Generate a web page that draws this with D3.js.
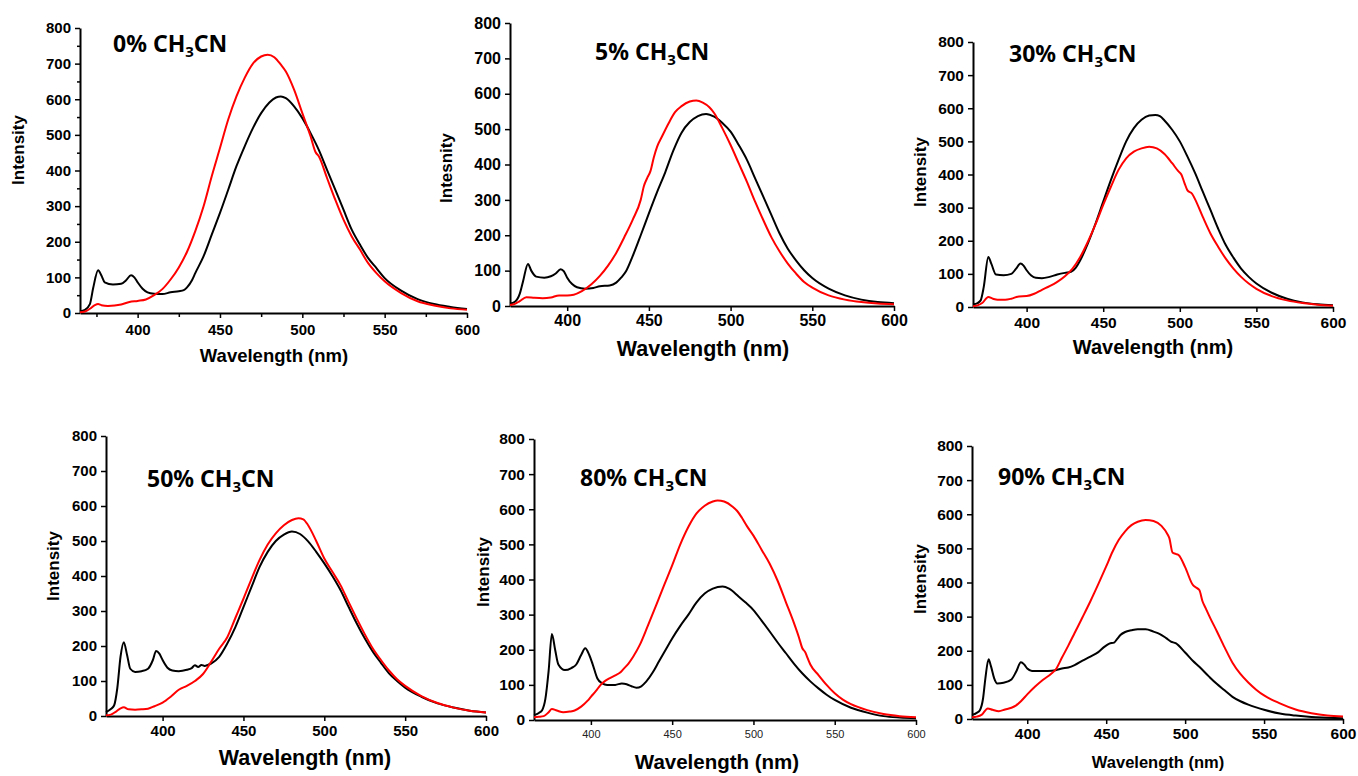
<!DOCTYPE html>
<html>
<head>
<meta charset="utf-8">
<script src="https://cdn.jsdelivr.net/npm/d3@7"></script>
<style>
html, body { margin: 0; padding: 0; background: #fff; }
svg text { font-family: "Liberation Sans", Arial, sans-serif; font-weight: bold; fill: #000; }
.title { font-family: "Noto Sans", "DejaVu Sans", sans-serif; }
</style>
</head>
<body>
<svg id="chart" width="1358" height="776"></svg>
<script>
//DATA : [wavelength (nm), intensity]
const concentrations = ['0%', '5%', '30%', '50%', '80%', '90%'];
const yTicks = [0, 100, 200, 300, 400, 500, 600, 700, 800];
const xTicks = [400, 450, 500, 550, 600];

const black0 = [[365,5],[368,9],[371,25],[373,70],[376,120],[378,105],[380,86],[385,80],[390,82],[393,92],[396,106],[398,100],[400,86],[403,68],[406,58],[410,54],[415,53],[420,58],[425,61],[428,64],[430,72],[433,92],[435,112],[440,159],[445,220],[450,281],[455,346],[460,412],[465,468],[470,519],[475,561],[480,591],[484,605],[487,608],[490,603],[495,580],[500,547],[505,505],[510,458],[515,402],[520,346],[525,290],[530,234],[535,192],[540,154],[545,126],[550,98],[560,63],[570,39],[580,25],[590,17],[600,11]];
const red0 = [[365,2],[368,4],[371,12],[374,22],[376,25],[378,22],[382,20],[386,21],[390,24],[395,31],[400,34],[405,38],[410,50],[415,67],[420,94],[425,128],[430,172],[435,230],[440,299],[445,384],[450,463],[455,543],[460,608],[465,660],[470,700],[475,720],[479,725],[483,718],[487,697],[490,678],[495,627],[500,561],[505,496],[508,452],[510,440],[515,379],[520,318],[525,262],[530,215],[535,178],[540,140],[545,112],[550,89],[560,56],[570,33],[580,21],[590,13],[600,9]];

const black5 = [[365,7],[368,12],[371,35],[373,70],[376,119],[378,100],[381,83],[386,80],[390,84],[393,92],[396,104],[398,98],[400,80],[403,62],[406,53],[411,49],[416,51],[420,56],[426,58],[430,66],[433,80],[436,98],[440,140],[445,200],[450,262],[455,322],[460,378],[465,440],[470,490],[475,520],[480,537],[485,543],[490,535],[495,517],[500,493],[505,455],[510,413],[515,361],[520,309],[525,257],[530,205],[535,162],[540,129],[545,101],[550,79],[560,49],[570,30],[580,18],[590,11],[600,8]];
const red5 = [[365,3],[368,6],[371,14],[375,25],[380,23],[385,22],[390,24],[395,30],[400,30],[404,32],[409,42],[415,62],[420,85],[425,114],[430,150],[435,195],[440,243],[445,300],[447,340],[449,362],[451,382],[453,420],[455,450],[458,479],[462,516],[466,548],[470,565],[475,578],[479,581],[483,575],[487,562],[490,545],[495,502],[500,455],[505,403],[510,351],[515,295],[520,243],[525,194],[530,154],[535,120],[540,92],[545,68],[550,52],[560,30],[570,18],[580,11],[590,7],[600,5]];

const black30 = [[365,8],[368,12],[370,20],[372,60],[375,151],[377,130],[380,98],[385,96],[390,100],[393,115],[396,131],[398,125],[400,111],[403,95],[406,88],[410,87],[415,91],[420,98],[425,103],[429,106],[432,118],[435,141],[440,192],[445,252],[450,318],[455,383],[460,444],[465,500],[470,540],[475,565],[480,578],[484,580],[487,576],[490,563],[495,535],[500,500],[505,454],[510,404],[515,348],[520,293],[525,237],[530,187],[535,149],[540,116],[545,91],[550,71],[560,43],[570,25],[580,14],[590,8],[600,5]];
const red30 = [[365,2],[368,5],[371,12],[375,30],[378,25],[381,22],[386,22],[390,25],[395,32],[400,33],[405,40],[410,52],[415,63],[420,76],[425,93],[430,116],[435,151],[440,197],[445,250],[450,308],[455,363],[460,414],[465,449],[470,469],[475,479],[480,484],[485,479],[490,462],[495,434],[499,410],[501,400],[503,375],[505,352],[508,342],[510,325],[515,272],[520,222],[525,182],[530,146],[535,116],[540,91],[545,71],[550,55],[560,33],[570,20],[580,12],[590,7],[600,4]];

const black50 = [[365,11],[368,20],[370,30],[372,80],[374,170],[376,211],[378,175],[380,135],[383,126],[387,128],[391,135],[394,160],[396,186],[398,178],[400,160],[403,138],[406,130],[410,128],[415,132],[418,137],[420,145],[422,140],[424,146],[426,143],[428,146],[430,150],[435,169],[440,207],[445,254],[450,311],[455,369],[460,426],[465,469],[470,500],[475,518],[480,527],[485,520],[490,499],[495,469],[500,436],[505,400],[510,360],[515,312],[520,265],[525,222],[530,184],[535,152],[540,122],[545,100],[550,81],[560,55],[570,36],[580,24],[590,15],[600,10]];
const red50 = [[365,2],[368,4],[371,12],[374,22],[376,25],[379,19],[383,18],[387,19],[391,21],[395,28],[400,38],[405,55],[410,75],[415,86],[420,100],[425,120],[430,155],[435,192],[440,225],[445,280],[450,335],[455,392],[460,446],[465,490],[470,522],[475,545],[480,560],[484,565],[487,562],[490,545],[495,500],[500,450],[505,412],[510,374],[515,326],[520,279],[525,234],[530,193],[535,160],[540,130],[545,105],[550,86],[560,57],[570,37],[580,24],[590,15],[600,10]];

const black80 = [[365,14],[368,20],[370,28],[372,60],[374,140],[376,245],[378,200],[380,158],[384,142],[388,148],[391,158],[394,185],[396.5,204],[399,185],[401,160],[404,118],[407,104],[410,100],[415,100],[419,104],[422,102],[425,96],[428,92],[431,96],[434,109],[438,135],[442,168],[446,200],[450,232],[455,268],[460,300],[465,335],[470,360],[475,374],[481,380],[485,374],[491,351],[495,335],[500,313],[505,283],[510,252],[515,220],[520,190],[525,160],[530,133],[535,110],[540,90],[545,72],[550,57],[560,35],[570,21],[580,11],[590,7],[600,5]];
const red80 = [[365,8],[368,9],[371,11],[374,22],[376,31],[379,27],[383,22],[387,24],[390,27],[394,38],[398,55],[400,66],[403,82],[406,100],[409,112],[412,120],[415,127],[418,135],[420,145],[423,160],[426,180],[430,213],[435,268],[440,325],[445,383],[450,440],[455,500],[460,550],[465,588],[470,610],[475,622],[478,625],[482,622],[487,608],[490,595],[493,575],[496,552],[500,525],[505,485],[510,445],[515,395],[520,335],[525,275],[528,235],[530,205],[532,192],[533,180],[535,158],[540,128],[545,100],[550,76],[555,58],[560,45],[570,28],[580,17],[590,11],[600,8]];

const black90 = [[365,12],[368,18],[370,26],[372,60],[373.5,120],[375.5,175],[377,155],[379,120],[381,104],[385,106],[390,116],[393,139],[396,166],[398,160],[400,148],[403,141],[408,141],[413,141],[418,143],[422,148],[426,151],[430,158],[435,171],[440,183],[445,196],[449,212],[452,221],[455,224],[457,235],[459,246],[462,255],[466,260],[470,263],[475,263],[480,256],[484,249],[488,237],[491,227],[494,222],[500,195],[505,170],[509,153],[515,125],[520,103],[525,84],[530,65],[535,52],[540,42],[545,34],[550,27],[560,16],[570,10],[580,6],[590,4],[600,2]];
const red90 = [[365,5],[368,7],[371,12],[375,31],[378,27],[382,23],[386,28],[390,33],[393,40],[396,52],[400,72],[405,95],[410,115],[415,132],[418,145],[422,180],[426,215],[430,252],[435,298],[440,345],[445,395],[450,447],[454,490],[458,525],[462,550],[466,568],[470,578],[475,583],[480,580],[485,566],[489,540],[490,530],[492,488],[494,484],[496,480],[500,445],[505,392],[507,385],[509,378],[511,345],[513,325],[516,295],[520,258],[525,210],[530,165],[535,132],[540,107],[545,86],[550,69],[560,46],[570,28],[580,17],[590,10],[600,7]];

const blackSeries = [black0, black5, black30, black50, black80, black90];
const redSeries = [red0, red5, red30, red50, red80, red90];
const yLabels = ['Intensity', 'Intesnity', 'Intensity', 'Intensity', 'Intensity', 'Intensity'];

//LAYOUT (pixel boxes)
const layout = [
    {left: 80,  right: 467,  top: 28,  bottom: 313, titleX: 113,  titleY: 52,  yLabX: 24,  yLabY: 150, xLabX: 274,  xLabY: 355, xLabSize: 18.5, tickSize: 15, xPad: 6, minor: true},
    {left: 510, right: 894,  top: 23,  bottom: 306, titleX: 595,  titleY: 60,  yLabX: 452, yLabY: 168, xLabX: 703,  xLabY: 348, xLabSize: 21.5, tickSize: 16, xPad: 4},
    {left: 973, right: 1333, top: 42,  bottom: 307, titleX: 1009, titleY: 62,  yLabX: 926, yLabY: 172, xLabX: 1153, xLabY: 347, xLabSize: 20,   tickSize: 15.5, xPad: 5},
    {left: 106, right: 486,  top: 436, bottom: 716, titleX: 147,  titleY: 487, yLabX: 59,  yLabY: 566, xLabX: 305,  xLabY: 757, xLabSize: 21.5, tickSize: 15, xPad: 4},
    {left: 534, right: 916,  top: 439, bottom: 720, titleX: 580,  titleY: 486, yLabX: 489, yLabY: 572, xLabX: 717,  xLabY: 762, xLabSize: 20.5, tickSize: 15.5, xPad: 5, smallX: true},
    {left: 972, right: 1343, top: 446, bottom: 719, titleX: 998,  titleY: 485, yLabX: 926, yLabY: 579, xLabX: 1158, xLabY: 762, xLabSize: 16.5, tickSize: 15.5, xPad: 4}
];

const svg = d3.select('#chart');

layout.forEach((box, i) => {
    const g = svg.append('g');

    const x = d3.scaleLinear().domain([365, 600]).range([box.left, box.right]);
    const y = d3.scaleLinear().domain([0, 800]).range([box.bottom, box.top]);

    //MINOR TICKS (first panel only)
    if (box.minor) {
        g.append('g')
            .attr('transform', `translate(${box.left},0)`)
            .call(d3.axisLeft(y).tickValues(d3.range(50, 800, 100)).tickSize(3).tickFormat(''))
            .call(a => a.select('.domain').remove());
        g.append('g')
            .attr('transform', `translate(0,${box.bottom})`)
            .call(d3.axisBottom(x).tickValues(d3.range(375, 600, 50)).tickSize(4).tickFormat(''))
            .call(a => a.select('.domain').remove());
    }

    //AXES
    const yAxis = g.append('g')
        .attr('transform', `translate(${box.left},0)`)
        .call(d3.axisLeft(y).tickValues(yTicks).tickSize(5).tickSizeOuter(0).tickPadding(4));

    const xAxis = g.append('g')
        .attr('transform', `translate(0,${box.bottom})`)
        .call(d3.axisBottom(x).tickValues(xTicks).tickSize(5).tickSizeOuter(0).tickPadding(box.xPad));

    yAxis.selectAll('text').style('font-size', box.tickSize + 'px');
    xAxis.selectAll('text').style('font-size', box.smallX ? '11px' : box.tickSize + 'px');
    if (box.smallX) xAxis.selectAll('text').style('font-weight', 'normal').style('fill', '#222');

    g.selectAll('.domain').attr('stroke', '#000').attr('stroke-width', 2);
    g.selectAll('.tick line').attr('stroke', '#000').attr('stroke-width', 1.5);

    //CURVES
    const line = d3.line()
        .x(d => x(d[0]))
        .y(d => y(d[1]))
        .curve(d3.curveMonotoneX);

    g.append('path')
        .datum(blackSeries[i])
        .attr('d', line)
        .attr('fill', 'none')
        .attr('stroke', '#000')
        .attr('stroke-width', 2);

    g.append('path')
        .datum(redSeries[i])
        .attr('d', line)
        .attr('fill', 'none')
        .attr('stroke', '#f00')
        .attr('stroke-width', 2);

    //TITLE
    const title = g.append('text')
        .attr('class', 'title')
        .attr('x', box.titleX)
        .attr('y', box.titleY)
        .style('font-size', '23px');
    title.append('tspan').text(concentrations[i] + ' CH');
    title.append('tspan').text('3').attr('dy', 5).style('font-size', '15px');
    title.append('tspan').text('CN').attr('dy', -5);

    //AXIS LABELS
    g.append('text')
        .attr('transform', `translate(${box.yLabX},${box.yLabY}) rotate(-90)`)
        .attr('text-anchor', 'middle')
        .style('font-size', '17px')
        .text(yLabels[i]);

    g.append('text')
        .attr('x', box.xLabX)
        .attr('y', box.xLabY + box.xLabSize * 0.36)
        .attr('text-anchor', 'middle')
        .style('font-size', box.xLabSize + 'px')
        .text('Wavelength (nm)');
});
</script>
</body>
</html>
